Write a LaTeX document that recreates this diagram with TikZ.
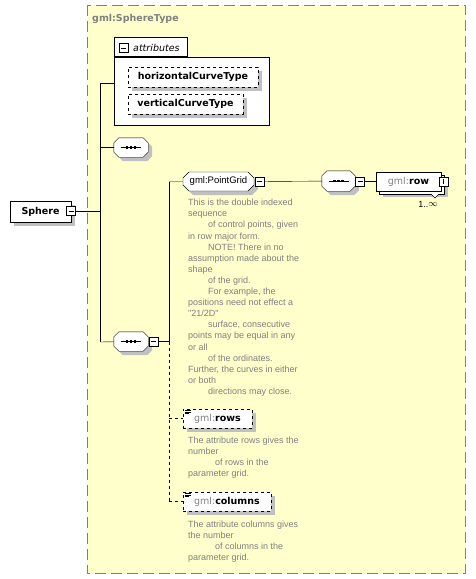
\documentclass[tikz,border=0pt]{standalone}
\usepackage{fontspec}
\setmainfont{DejaVu Sans}
\newfontfamily\descfont{Liberation Sans}
\usetikzlibrary{shapes.misc,shadows}
\definecolor{sdyellow}{RGB}{255,255,204}
\definecolor{sdgray}{RGB}{128,128,128}
\definecolor{sdshadow}{RGB}{192,192,192}

\begin{document}
\begin{tikzpicture}[x=1pt,y=-1pt,
	lbl/.style = {font=\fontsize{9.5}{11}\selectfont},
	shade4/.style = {drop shadow={shadow xshift=4pt, shadow yshift=-4pt, fill=sdshadow, opacity=1}},
	elem/.style = {draw, fill=white, rectangle, inner sep=0pt, lbl, shade4},
	att/.style = {elem, dashed},
	seq/.style = {rectangle, minimum width=34pt, minimum height=19pt, inner sep=0pt},
	pm/.style = {draw, fill=white, minimum size=9pt, inner sep=0pt,
		path picture={\draw ([xshift=2pt]path picture bounding box.west) -- ([xshift=-2pt]path picture bounding box.east);}},
	pp/.style = {pm,
		path picture={\draw ([yshift=2pt]path picture bounding box.south) -- ([yshift=-2pt]path picture bounding box.north);}},
	desc/.style = {anchor=north west, align=left, inner sep=0pt, text=sdgray, font=\descfont\fontsize{9}{11.1}\selectfont}
]
	\useasboundingbox (0,0) rectangle (475,579);
	% complex type frame
	\draw[sdgray, fill=sdyellow, line width=1pt, dash pattern=on 11pt off 5pt] (87,5) rectangle (465,573);
	\node[anchor=west, inner sep=0pt, text=sdgray, lbl] (title) at (92,19) {\bfseries gml:SphereType};

	% attributes
	\node[draw, fill=white, minimum width=155pt, minimum height=68pt] (attbox) at (191.5,91) {};
	\node[draw, fill=white, anchor=south west, minimum width=73pt, minimum height=19pt] (tab) at (attbox.north west) {};
	\node[pm] (tabpm) at (123.5,48) {};
	\node[anchor=west, inner sep=0pt, lbl] (tabtxt) at (133,48) {\itshape attributes};
	\node[att, minimum width=130pt, minimum height=20pt] (hct) at (193,77) {\bfseries horizontalCurveType};
	\node[att, minimum width=115pt, minimum height=20pt] (vct) at (185.5,104) {\bfseries verticalCurveType};

	% root element
	\node[elem, minimum width=61pt, minimum height=21pt, text width=52pt, align=center] (sphere) at (40.5,211.5) {\bfseries Sphere};
	\node[pm] (spherepm) at (71,211) {};

	% sequences
	\node[seq] (seq1) at (131,147.5) {};
	\node[seq] (seq2) at (131,341.5) {};
	\node[seq, minimum width=33pt, minimum height=20pt] (seq3) at (338.5,181) {};
	\foreach \n in {seq1,seq2,seq3} {
		\fill[sdshadow, transform canvas={shift={(4pt,-4pt)}}] ([xshift=5pt]\n.north west) -- ([xshift=-5pt]\n.north east) -- ([yshift=-5pt]\n.north east) -- ([yshift=5pt]\n.south east) -- ([xshift=-5pt]\n.south east) -- ([xshift=5pt]\n.south west) -- ([yshift=5pt]\n.south west) -- ([yshift=-5pt]\n.north west) -- cycle;
		\draw[fill=white] ([xshift=5pt]\n.north west) -- ([xshift=-5pt]\n.north east) -- ([yshift=-5pt]\n.north east) -- ([yshift=5pt]\n.south east) -- ([xshift=-5pt]\n.south east) -- ([xshift=5pt]\n.south west) -- ([yshift=5pt]\n.south west) -- ([yshift=-5pt]\n.north west) -- cycle;
		\draw ([xshift=-10pt]\n.center) -- ([xshift=10pt]\n.center);
		\foreach \d in {-4,0,4}
			\fill ([xshift=\d pt]\n.center) +(-1.4pt,-1.4pt) rectangle +(1.4pt,1.4pt);
	}
	\node[pm] (seq2pm) at (153.5,341.5) {};
	\node[pm] (seq3pm) at (360,181.5) {};
	\node[draw, fill=white, chamfered rectangle, chamfered rectangle xsep=3pt, chamfered rectangle ysep=3pt, minimum width=71pt, minimum height=19pt, inner sep=0pt, shade4, font=\descfont\fontsize{9.5}{11}\selectfont] (grid) at (218.5,181.5) {gml:PointGrid};
	\node[pm] (gridpm) at (259.5,181.5) {};
	\node[elem, minimum width=65pt, minimum height=19pt,
		drop shadow={shadow xshift=7pt, shadow yshift=-6pt, fill=sdshadow, opacity=1},
		copy shadow={shadow xshift=3pt, shadow yshift=-3pt}] (row) at (408.5,181.5) {\textcolor{sdgray}{gml:}\textbf{row}\hspace{8pt}};
	\node[pp] (rowpp) at (443.5,181.5) {};
	\draw[fill=white] (431,194) -- (435,198) -- (439,194);
	\node[anchor=north, inner sep=0pt, font=\descfont\fontsize{9}{11}\selectfont] (rowocc) at (428,201) {1..\raisebox{0.5pt}{$\infty$}};

	% attributes of the group
	\node[att, minimum width=69pt, minimum height=19pt] (rows) at (217.5,418.5) {\textcolor{sdgray}{gml:}\textbf{rows}};
	\node[att, minimum width=88pt, minimum height=19pt] (cols) at (227,501.5) {\textcolor{sdgray}{gml:}\textbf{columns}};
	\foreach \n in {rows,cols} {
		\draw ([shift={(2pt,-1.5pt)}]\n.north west) -- +(6pt,0);
		\draw ([shift={(2pt,-3pt)}]\n.north west) -- +(6pt,0);
		\draw ([shift={(2pt,-4.5pt)}]\n.north west) -- +(4pt,0);
	}

	% descriptions
	\node[desc] (griddesc) at (188,199) {This is the double indexed\\sequence\\\hspace*{20pt}of control points, given\\in row major form.\\\hspace*{20pt}NOTE! There in no\\assumption made about the\\shape\\\hspace*{20pt}of the grid.\\\hspace*{20pt}For example, the\\positions need not effect a\\"21/2D"\\\hspace*{20pt}surface, consecutive\\points may be equal in any\\or all\\\hspace*{20pt}of the ordinates.\\Further, the curves in either\\or both\\\hspace*{20pt}directions may close.};
	\node[desc] (rowsdesc) at (188,436.5) {The attribute rows gives the\\number\\\hspace*{27pt}of rows in the\\parameter grid.};
	\node[desc] (colsdesc) at (188,520.5) {The attribute columns gives\\the number\\\hspace*{27pt}of columns in the\\parameter grid.};

	% connectors
	\coordinate (j0) at (100,211);
	\coordinate (j1) at (100,83);
	\coordinate (j2) at (100,342);
	\coordinate (k0) at (169,181.5);
	\coordinate (k1) at (169,341.5);
	\coordinate (k2) at (169,418.5);
	\coordinate (k3) at (169,501.5);
	\draw (spherepm) -- (j0);
	\draw (j1) -- (j2);
	\draw (j1) -- (j1 -| attbox.west);
	\draw (j0 |- seq1) -- (seq1);
	\draw (j2) -- (seq2);
	\draw (seq2pm) -- (k1);
	\draw (k0) -- (k1);
	\draw (k0) -- (grid);
	\draw (gridpm) -- (seq3);
	\draw (seq3pm) -- (row);
	\draw[dashed] (k1) -- (k3);
	\draw[dashed] (k2) -- (rows);
	\draw[dashed] (k3) -- (cols);
\end{tikzpicture}
\end{document}
